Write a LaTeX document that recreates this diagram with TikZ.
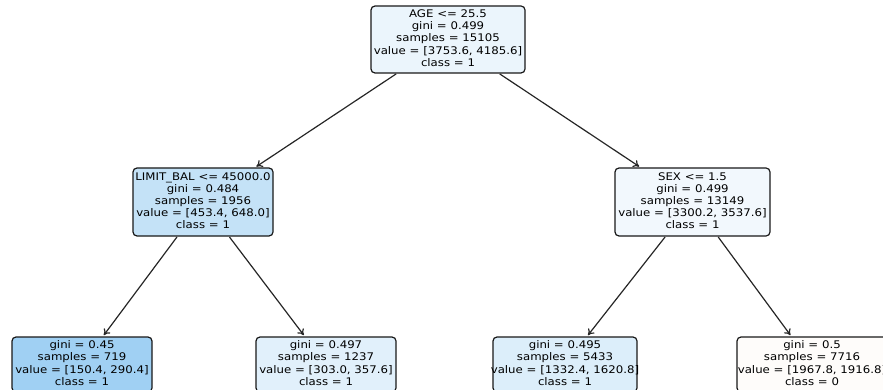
\documentclass[tikz,border=0pt]{standalone}
\usepackage{fontspec}
\newfontfamily\dv[FakeStretch=1.12]{DejaVu Sans}
\usetikzlibrary{arrows.meta}
\definecolor{cRoot}{RGB}{235,245,252}
\definecolor{cLB}{RGB}{196,226,247}
\definecolor{cSex}{RGB}{242,248,253}
\definecolor{cLa}{RGB}{160,208,243}
\definecolor{cLb}{RGB}{225,240,251}
\definecolor{cLc}{RGB}{220,238,250}
\definecolor{cLd}{RGB}{254,252,250}
\newcommand{\tlines}[1]{\makebox[0pt][c]{\begin{tabular}{@{}c@{}}#1\end{tabular}}}
\tikzset{
  treebox/.style={draw=black!90, line width=1.2pt, rounded corners=4pt, inner sep=0pt,
    font=\dv\fontsize{10.5}{12.2}\selectfont},
  arr/.style={-{To[length=6pt,width=8pt]}, line width=1.2pt, draw=black!85, shorten >=1.5pt, shorten <=0.5pt}
}
\begin{document}
\begin{tikzpicture}[x=1pt,y=1pt]
\clip (0,0) rectangle (883,-390);
\node[treebox, fill=cRoot, minimum width=154pt, minimum height=67pt] (root) at (448,-39.5)
  {\tlines{AGE <= 25.5\\gini = 0.499\\samples = 15105\\value = [3753.6, 4185.6]\\class = 1}};
\node[treebox, fill=cLB, minimum width=140pt, minimum height=68pt] (lb) at (203,-202)
  {\tlines{LIMIT\_BAL <= 45000.0\\gini = 0.484\\samples = 1956\\value = [453.4, 648.0]\\class = 1}};
\node[treebox, fill=cSex, minimum width=155pt, minimum height=68pt] (sex) at (692.5,-202)
  {\tlines{SEX <= 1.5\\gini = 0.499\\samples = 13149\\value = [3300.2, 3537.6]\\class = 1}};
\node[treebox, fill=cLa, minimum width=140pt, minimum height=55pt] (la) at (82,-364.5)
  {\tlines{gini = 0.45\\samples = 719\\value = [150.4, 290.4]\\class = 1}};
\node[treebox, fill=cLb, minimum width=140pt, minimum height=55pt] (lbb) at (326,-364.5)
  {\tlines{gini = 0.497\\samples = 1237\\value = [303.0, 357.6]\\class = 1}};
\node[treebox, fill=cLc, minimum width=144pt, minimum height=55pt] (lc) at (565,-364.5)
  {\tlines{gini = 0.495\\samples = 5433\\value = [1332.4, 1620.8]\\class = 1}};
\node[treebox, fill=cLd, minimum width=150pt, minimum height=55pt] (ld) at (812,-364.5)
  {\tlines{gini = 0.5\\samples = 7716\\value = [1967.8, 1916.8]\\class = 0}};
\draw[arr] (root) -- (lb);
\draw[arr] (root) -- (sex);
\draw[arr] (lb) -- (la);
\draw[arr] (lb) -- (lbb);
\draw[arr] (sex) -- (lc);
\draw[arr] (sex) -- (ld);
\end{tikzpicture}
\end{document}
